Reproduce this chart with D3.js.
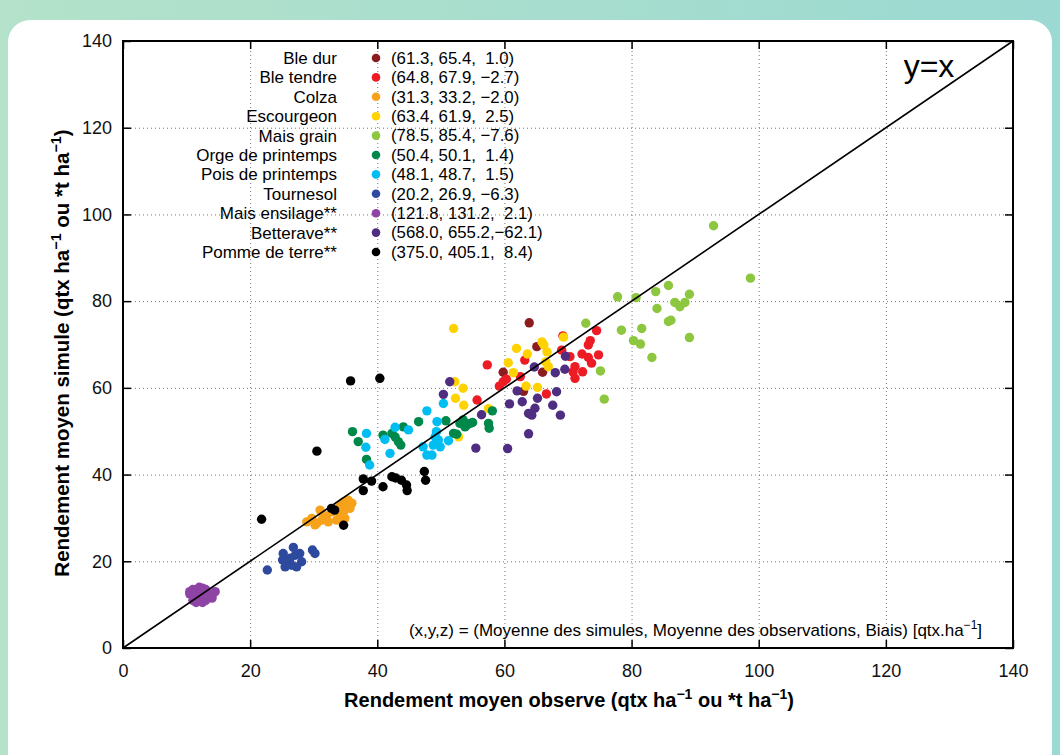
<!DOCTYPE html>
<html>
<head>
<meta charset="utf-8">
<script src="https://cdn.jsdelivr.net/npm/d3@7"></script>
<style>
  html, body { margin: 0; padding: 0; background: #fff; }
  svg { display: block; font-family: "Liberation Sans", Arial, Helvetica, sans-serif; }
  text { white-space: pre; }
</style>
</head>
<body>
<svg id="chart"></svg>
<script>
(function() {

  // categories in legend order (also drawing order)
  const categories = ['Ble dur', 'Ble tendre', 'Colza', 'Escourgeon', 'Mais grain',
    'Orge de printemps', 'Pois de printemps', 'Tournesol', 'Mais ensilage**',
    'Betterave**', 'Pomme de terre**'];

  // (mean simulated, mean observed, bias) as printed in the legend
  const legendStats = ['(61.3, 65.4,  1.0)', '(64.8, 67.9, \u22122.7)', '(31.3, 33.2, \u22122.0)',
    '(63.4, 61.9,  2.5)', '(78.5, 85.4, \u22127.6)', '(50.4, 50.1,  1.4)', '(48.1, 48.7,  1.5)',
    '(20.2, 26.9, \u22126.3)', '(121.8, 131.2,  2.1)', '(568.0, 655.2,\u221262.1)', '(375.0, 405.1,  8.4)'];

  const colors = ['#8c1c1f', '#ed1c24', '#f7a21b', '#ffd200', '#8dc63f', '#00884a',
    '#00bdf2', '#2e4a9f', '#8e44a5', '#4f2d80', '#000000'];

  // [observed, simulated]
  const bleDur = [[63.9, 75.0], [65.1, 69.5], [59.8, 63.6], [66.0, 63.6], [63.0, 59.2]];
  const bleTendre = [[57.3, 65.3], [55.7, 57.2], [59.2, 60.4], [59.8, 61.4], [60.3, 62.0],
    [62.5, 62.6], [63.2, 66.4], [66.6, 58.6], [69.2, 72.0], [69.0, 68.7], [70.3, 67.2],
    [71.1, 64.9], [70.8, 63.7], [72.3, 63.7], [71.1, 62.2], [72.2, 67.8], [73.2, 67.0],
    [74.8, 67.6], [73.7, 65.7], [73.5, 70.9], [73.2, 69.9], [74.5, 73.2]];
  const colza = [[28.9, 29.1], [29.7, 29.9], [30.5, 28.8], [31.3, 29.5], [31.0, 31.8],
    [32.0, 30.3], [32.3, 29.1], [32.8, 31.4], [34.1, 33.0], [34.7, 33.7], [35.4, 34.1],
    [36.0, 33.4], [35.2, 32.6], [34.7, 31.4], [34.1, 30.3], [35.7, 32.2], [33.6, 29.5],
    [34.9, 29.9], [31.5, 30.7], [30.2, 28.4]];
  const escourgeon = [[52.0, 73.7], [52.2, 61.4], [53.5, 59.9], [52.3, 57.6], [53.6, 56.0],
    [57.5, 55.2], [52.8, 48.7], [60.6, 65.8], [61.4, 63.5], [61.9, 69.1], [63.6, 67.8],
    [63.4, 60.4], [65.2, 60.1], [65.9, 70.6], [66.2, 69.9], [66.7, 68.3], [66.5, 66.0],
    [66.9, 64.9], [69.3, 71.7]];
  const maisGrain = [[92.9, 97.4], [98.7, 85.3], [77.8, 81.0], [80.7, 80.8], [83.8, 82.2],
    [85.8, 83.6], [89.1, 81.6], [86.8, 79.7], [87.6, 78.7], [88.4, 79.7], [84.0, 78.3],
    [85.8, 75.3], [86.2, 75.6], [78.4, 73.3], [81.6, 73.7], [80.3, 70.9], [81.4, 70.1],
    [89.1, 71.6], [83.2, 67.0], [72.8, 74.9], [75.1, 63.9], [75.7, 57.4]];
  const orge = [[36.1, 49.9], [37.0, 47.6], [38.3, 43.5], [40.9, 49.1], [42.3, 49.5],
    [42.8, 48.7], [43.3, 47.6], [43.7, 46.8], [44.1, 51.0], [46.5, 52.2], [50.8, 52.4],
    [52.0, 49.5], [52.5, 49.3], [53.0, 51.8], [53.5, 52.6], [54.1, 51.4], [54.6, 51.8],
    [55.0, 52.0], [57.5, 51.8], [57.6, 50.7], [58.1, 54.7], [53.8, 51.0]];
  const pois = [[38.3, 49.5], [38.2, 46.3], [38.8, 42.2], [42.0, 44.9], [41.2, 48.1],
    [42.8, 50.9], [44.9, 50.3], [47.8, 54.7], [49.4, 52.2], [49.3, 49.9], [50.4, 56.4],
    [47.2, 46.4], [47.8, 44.5], [48.6, 44.5], [48.8, 46.8], [49.6, 48.0], [49.9, 46.4],
    [51.2, 47.8], [49.1, 48.7]];
  const tournesol = [[22.7, 18.0], [25.2, 21.8], [26.8, 23.2], [25.1, 20.3], [26.3, 20.7],
    [27.1, 21.4], [28.1, 19.9], [27.3, 18.7], [25.5, 18.7], [29.8, 22.6], [30.2, 21.8],
    [27.8, 21.8], [26.5, 19.1], [25.7, 19.5]];
  const maisEnsilage = [[10.5, 12.5], [11.0, 13.5], [11.5, 13.0], [12.0, 14.0], [12.5, 13.8],
    [13.0, 13.5], [11.0, 11.0], [12.0, 12.0], [13.5, 12.5], [14.0, 12.0], [14.5, 13.0],
    [13.0, 11.0], [12.5, 10.5], [11.5, 10.5], [10.5, 13.0], [14.0, 11.5], [12.0, 12.5],
    [13.0, 12.0]];
  const betterave = [[51.4, 61.4], [50.4, 58.5], [56.4, 53.8], [55.5, 46.1], [60.5, 46.0],
    [60.8, 56.3], [62.0, 59.3], [62.8, 56.8], [63.8, 54.1], [64.3, 53.7], [64.8, 55.3],
    [63.8, 49.4], [65.2, 57.6], [64.7, 64.8], [68.0, 63.5], [68.2, 59.1], [67.6, 56.0],
    [68.8, 53.7], [69.5, 64.3], [69.6, 67.3]];
  const pommeDeTerre = [[21.8, 29.7], [30.5, 45.4], [32.8, 32.2], [33.3, 31.8], [34.7, 28.3],
    [35.8, 61.6], [40.4, 62.2], [37.8, 39.0], [39.1, 38.5], [37.8, 36.3], [40.9, 37.2],
    [42.3, 39.5], [42.9, 39.2], [43.8, 38.7], [44.6, 37.6], [44.7, 36.3], [47.4, 40.7],
    [47.6, 38.7]];

  const series = [bleDur, bleTendre, colza, escourgeon, maisGrain, orge, pois,
    tournesol, maisEnsilage, betterave, pommeDeTerre];

  const ticks = [0, 20, 40, 60, 80, 100, 120, 140];
  const gridTicks = [20, 40, 60, 80, 100, 120];

  const width = 1060;
  const height = 755;
  const plot = { left: 123, right: 1013, top: 41, bottom: 648 };

  const svg = d3.select('#chart')
    .attr('width', width)
    .attr('height', height);

  // page background + white card
  const grad = svg.append('defs').append('linearGradient')
    .attr('id', 'bg').attr('x1', 0).attr('x2', 1).attr('y1', 0).attr('y2', 0);
  grad.append('stop').attr('offset', 0).attr('stop-color', '#b4e2ca');
  grad.append('stop').attr('offset', 1).attr('stop-color', '#9bd9d2');
  svg.append('rect').attr('width', width).attr('height', height).attr('fill', 'url(#bg)');
  svg.append('rect')
    .attr('x', 8).attr('y', 20)
    .attr('width', 1044).attr('height', 780)
    .attr('rx', 22)
    .attr('fill', '#fff');

  const x = d3.scaleLinear().domain([0, 140]).range([plot.left, plot.right]);
  const y = d3.scaleLinear().domain([0, 140]).range([plot.bottom, plot.top]);
  const w = plot.right - plot.left;
  const h = plot.bottom - plot.top;

  // dotted grid
  svg.append('g')
    .attr('class', 'grid')
    .attr('transform', 'translate(0,' + plot.bottom + ')')
    .call(d3.axisBottom(x).tickValues(gridTicks).tickSize(-h).tickFormat(''));
  svg.append('g')
    .attr('class', 'grid')
    .attr('transform', 'translate(' + plot.left + ',0)')
    .call(d3.axisLeft(y).tickValues(gridTicks).tickSize(-w).tickFormat(''));
  svg.selectAll('.grid .domain').remove();
  svg.selectAll('.grid line')
    .attr('stroke', '#777')
    .attr('stroke-width', 1)
    .attr('stroke-dasharray', '1,3');

  // points
  series.forEach(function(pts, i) {
    svg.append('g')
      .attr('class', 'series')
      .selectAll('circle')
      .data(pts)
      .enter()
      .append('circle')
      .attr('cx', function(d) { return x(d[0]); })
      .attr('cy', function(d) { return y(d[1]); })
      .attr('r', 4.7)
      .attr('fill', colors[i]);
  });

  // y = x
  svg.append('line')
    .attr('x1', x(0)).attr('y1', y(0))
    .attr('x2', x(140)).attr('y2', y(140))
    .attr('stroke', '#000')
    .attr('stroke-width', 1.6);

  // axes with inward ticks (mirrored on top and right)
  const xAxis = svg.append('g')
    .attr('class', 'axis')
    .attr('transform', 'translate(0,' + plot.bottom + ')')
    .call(d3.axisBottom(x).tickValues(ticks).tickSize(-8).tickPadding(12).tickSizeOuter(0));
  const yAxis = svg.append('g')
    .attr('class', 'axis')
    .attr('transform', 'translate(' + plot.left + ',0)')
    .call(d3.axisLeft(y).tickValues(ticks).tickSize(-8).tickPadding(11).tickSizeOuter(0));
  svg.append('g')
    .attr('class', 'axis')
    .attr('transform', 'translate(0,' + plot.top + ')')
    .call(d3.axisTop(x).tickValues(ticks).tickSize(-8).tickFormat('').tickSizeOuter(0));
  svg.append('g')
    .attr('class', 'axis')
    .attr('transform', 'translate(' + plot.right + ',0)')
    .call(d3.axisRight(y).tickValues(ticks).tickSize(-8).tickFormat('').tickSizeOuter(0));

  svg.selectAll('.axis .domain').remove();
  svg.selectAll('.axis line').attr('stroke', '#000').attr('stroke-width', 1.5);
  svg.selectAll('.axis text')
    .attr('fill', '#111')
    .style('font-size', '18px')
    .style('font-family', '"Liberation Sans", Arial, sans-serif');
  xAxis.selectAll('text').attr('dy', '0.95em');

  svg.append('rect')
    .attr('x', plot.left).attr('y', plot.top)
    .attr('width', w).attr('height', h)
    .attr('fill', 'none')
    .attr('stroke', '#000')
    .attr('stroke-width', 2);

  // text with superscripts
  function supText(sel, parts, shift) {
    parts.forEach(function(p) {
      const t = sel.append('tspan').text(p[0]);
      if (p[1]) {
        t.attr('dy', -shift).style('font-size', '0.7em');
      } else if (p[2]) {
        t.attr('dy', shift);
      }
    });
  }

  const xTitle = svg.append('text')
    .attr('x', 569).attr('y', 707)
    .attr('text-anchor', 'middle')
    .style('font-size', '20px')
    .style('font-weight', 'bold');
  supText(xTitle, [['Rendement moyen observe (qtx ha'], ['\u22121', true],
    [' ou *t ha', false, true], ['\u22121', true], [')', false, true]], 8);

  const yTitle = svg.append('text')
    .attr('transform', 'translate(69,353) rotate(-90)')
    .attr('text-anchor', 'middle')
    .style('font-size', '20.5px')
    .style('font-weight', 'bold');
  supText(yTitle, [['Rendement moyen simule (qtx ha'], ['\u22121', true],
    [' ou *t ha', false, true], ['\u22121', true], [')', false, true]], 8);

  const note = svg.append('text')
    .attr('x', 982).attr('y', 636)
    .attr('text-anchor', 'end')
    .style('font-size', '17px');
  supText(note, [['(x,y,z) = (Moyenne des simules, Moyenne des observations, Biais) [qtx.ha'],
    ['\u22121', true], [']', false, true]], 7);

  svg.append('text')
    .attr('x', 929).attr('y', 77)
    .attr('text-anchor', 'middle')
    .style('font-size', '32px')
    .text('y=x');

  // legend
  const legend = svg.append('g').attr('class', 'legend')
    .selectAll('g')
    .data(categories)
    .enter()
    .append('g')
    .attr('transform', function(d, i) {
      return 'translate(0,' + (58 + i * 19.4) + ')';
    });
  legend.append('text')
    .attr('x', 337).attr('dy', '0.35em')
    .attr('text-anchor', 'end')
    .style('font-size', '17px')
    .text(function(d) { return d; });
  legend.append('circle')
    .attr('cx', 376).attr('r', 4.3)
    .attr('fill', function(d, i) { return colors[i]; });
  legend.append('text')
    .attr('x', 391).attr('dy', '0.35em')
    .style('font-size', '16.8px')
    .text(function(d, i) { return legendStats[i]; });

})();
</script>
</body>
</html>
